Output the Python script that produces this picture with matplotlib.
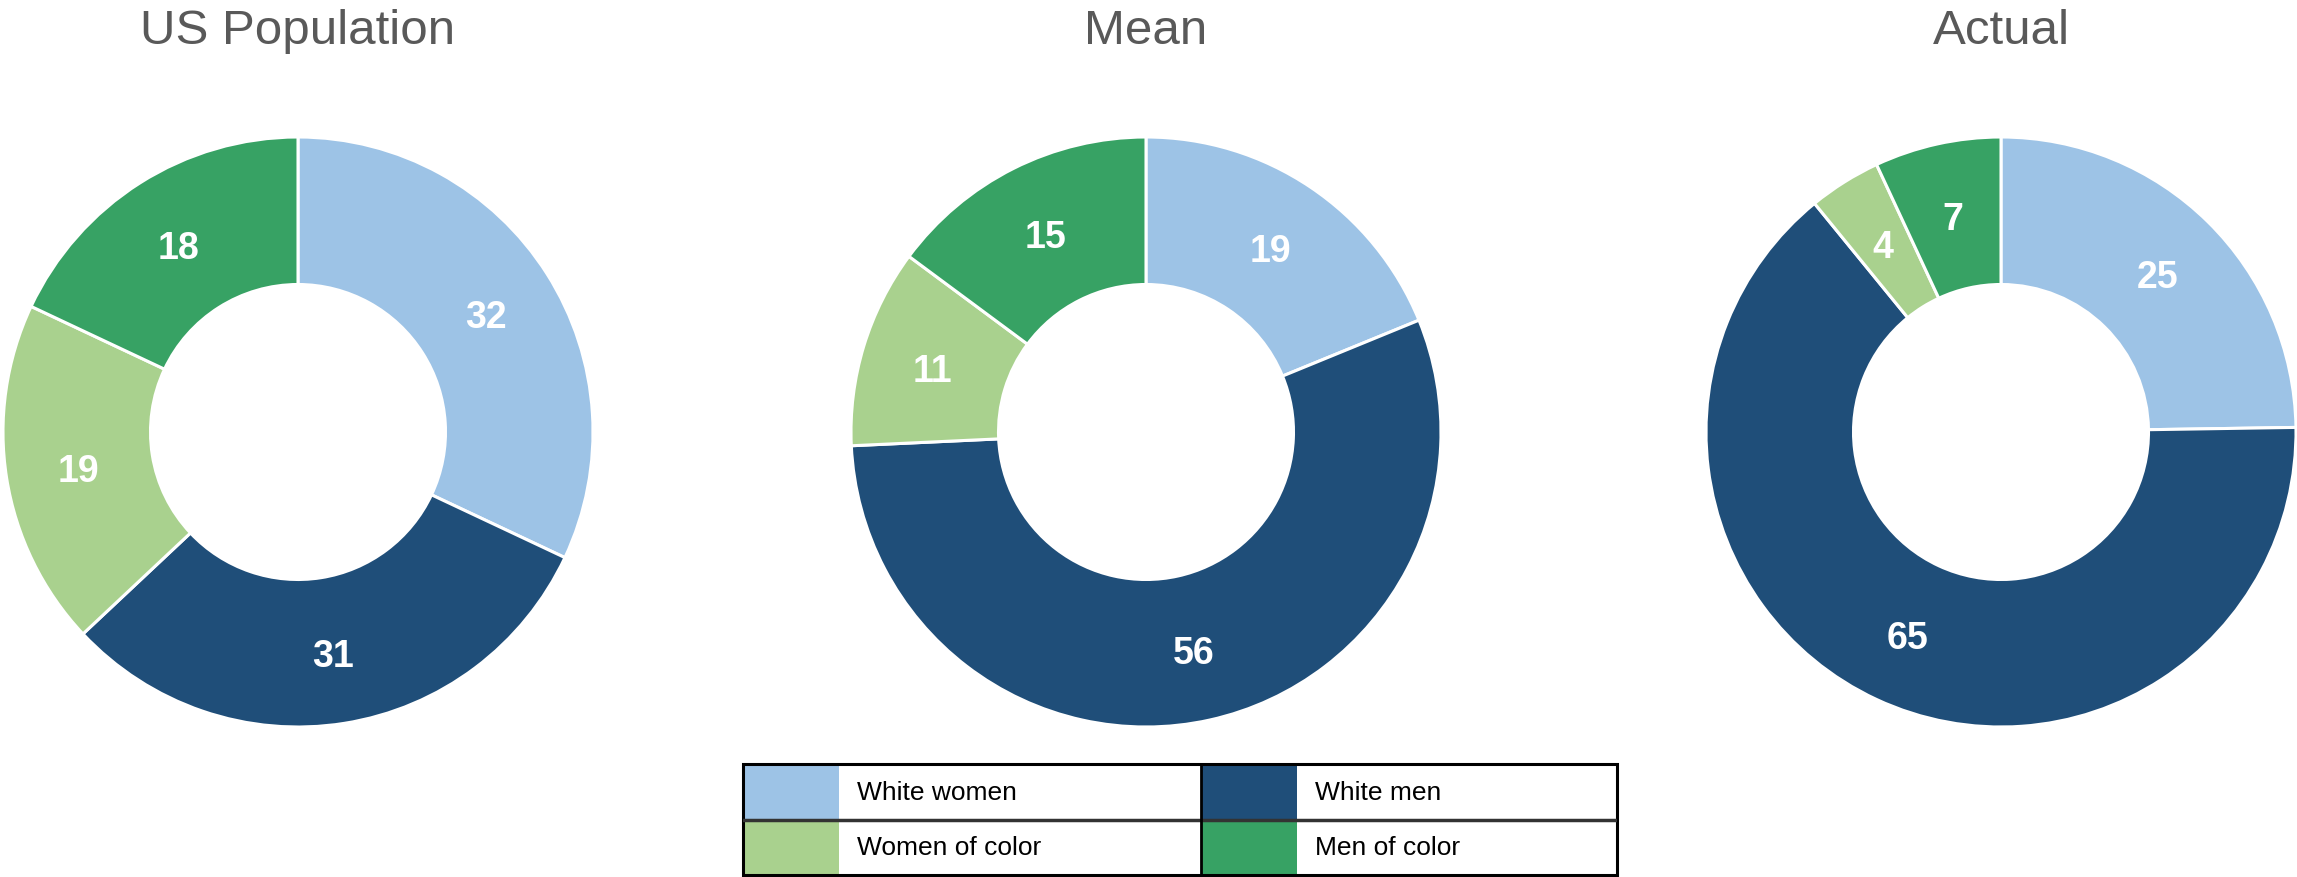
import numpy as np
import matplotlib
matplotlib.use("Agg")
import matplotlib.pyplot as plt
from matplotlib.patches import Rectangle

plt.rcParams['font.family'] = ['Liberation Sans', 'DejaVu Sans']

# data
groups = ["White women", "White men", "Women of color", "Men of color"]
colors = ["#9DC3E6", "#1F4E79", "#A9D18E", "#37A264"]
titles = ["US Population", "Mean", "Actual"]
us_pop = [32, 31, 19, 18]
mean_vals = [19, 56, 11, 15]
actual_vals = [25, 65, 4, 7]
all_vals = [us_pop, mean_vals, actual_vals]

W, H = 2297, 878
fig = plt.figure(figsize=(W / 100, H / 100), dpi=100)

# pie centres in pixels (x), common centre y and radius
centers_x = [298, 1146, 2001]
cy = 433
R = 295

for cx, vals, title in zip(centers_x, all_vals, titles):
    ax = fig.add_axes([(cx - R) / W, (H - cy - R) / H, 2 * R / W, 2 * R / H])
    wedges, _ = ax.pie(vals, colors=colors, startangle=90, counterclock=False,
                       radius=1, wedgeprops=dict(width=0.5, edgecolor="white",
                                                 linewidth=2.2))
    # value labels in the middle of each ring segment
    for w, v in zip(wedges, vals):
        th = np.deg2rad((w.theta1 + w.theta2) / 2)
        ax.text(0.755 * np.cos(th), 0.755 * np.sin(th), str(v), ha="center",
                va="center_baseline", color="white", fontsize=27,
                fontweight="bold")
    ax.set_xlim(-1, 1)
    ax.set_ylim(-1, 1)
    ax.axis("off")
    fig.text(cx / W, (H - 44) / H, title, ha="center", va="baseline",
             fontsize=35.5, color="#595959")

# legend drawn as a 2x2 table
lx0, lx1, ly0, ly1 = 743, 1617, 765, 876
lax = fig.add_axes([lx0 / W, (H - ly1) / H, (lx1 - lx0) / W, (ly1 - ly0) / H])
lw, lh = lx1 - lx0, ly1 - ly0
lax.set_xlim(0, lw)
lax.set_ylim(0, lh)
lax.axis("off")
col_x = [0, 458]
sw_w = 96
row_h = lh / 2
for i, (g, c) in enumerate(zip(groups, colors)):
    row, col = divmod(i, 2)
    y0 = lh - (row + 1) * row_h
    lax.add_patch(Rectangle((col_x[col], y0), sw_w, row_h, facecolor=c,
                            edgecolor="none"))
    lax.text(col_x[col] + 114, y0 + row_h / 2, g, ha="left", va="center",
             fontsize=19, color="black")
lax.add_patch(Rectangle((0, 0), lw, lh, fill=False, edgecolor="black",
                        linewidth=2.2, clip_on=False))
lax.plot([0, lw], [row_h, row_h], color="#333333", linewidth=2.5)
lax.plot([col_x[1], col_x[1]], [0, lh], color="black", linewidth=2)

fig.savefig("out.png", dpi=100)
